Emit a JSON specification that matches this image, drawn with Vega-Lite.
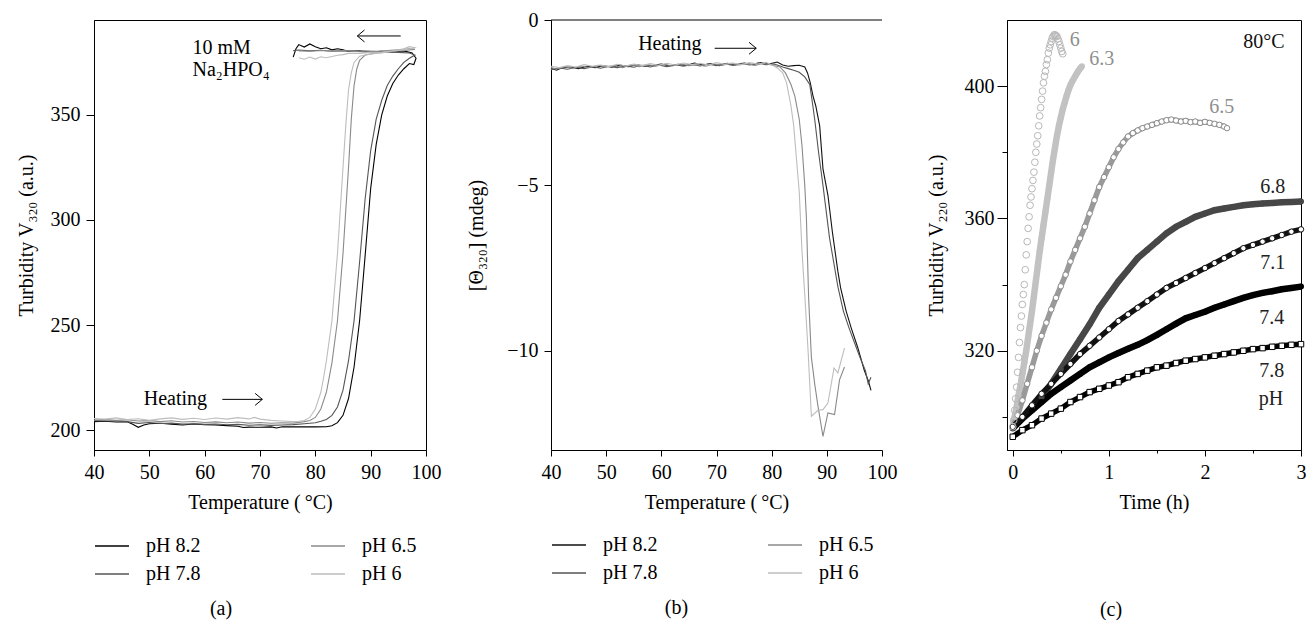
{
"$schema": "https://vega.github.io/schema/vega-lite/v6.json",
"padding": {"left": 15, "top": 10, "right": 0, "bottom": 0},
"bounds": "flush",
"spacing": 125,
"resolve": {"scale": {"color": "independent", "stroke": "independent", "shape": "independent"}, "legend": {"color": "independent"}},
"config": {
  "font": "Liberation Serif",
  "view": {"stroke": "black", "strokeWidth": 1},
  "axis": {"grid": false, "domainColor": "black", "tickColor": "black", "labelColor": "black", "titleColor": "black", "labelFontSize": 20, "titleFontSize": 20, "titleFontWeight": "normal", "labelFont": "Liberation Serif", "titleFont": "Liberation Serif", "domainWidth": 1, "tickWidth": 1, "labelFlush": false, "labelOverlap": false},
  "legend": {"labelFontSize": 20, "labelFont": "Liberation Serif", "labelColor": "black"},
  "title": {"fontSize": 20, "fontWeight": "normal", "font": "Liberation Serif", "color": "black"}
},
"datasets": {
  "a": [
    {"s":"pH 8.2","i":1,"T":40,"V":204.0},{"s":"pH 8.2","i":2,"T":42,"V":204.2},{"s":"pH 8.2","i":3,"T":44,"V":203.8},{"s":"pH 8.2","i":4,"T":46,"V":203.9},{"s":"pH 8.2","i":5,"T":47,"V":202.8},{"s":"pH 8.2","i":6,"T":48,"V":201.3},{"s":"pH 8.2","i":7,"T":49,"V":202.4},{"s":"pH 8.2","i":8,"T":50,"V":203.0},{"s":"pH 8.2","i":9,"T":52,"V":203.2},{"s":"pH 8.2","i":10,"T":54,"V":202.8},{"s":"pH 8.2","i":11,"T":56,"V":202.4},{"s":"pH 8.2","i":12,"T":58,"V":202.9},{"s":"pH 8.2","i":13,"T":60,"V":202.6},{"s":"pH 8.2","i":14,"T":62,"V":202.4},{"s":"pH 8.2","i":15,"T":64,"V":202.1},{"s":"pH 8.2","i":16,"T":66,"V":201.8},{"s":"pH 8.2","i":17,"T":67,"V":201.2},{"s":"pH 8.2","i":18,"T":68,"V":201.4},{"s":"pH 8.2","i":19,"T":70,"V":201.3},{"s":"pH 8.2","i":20,"T":72,"V":201.5},{"s":"pH 8.2","i":21,"T":73,"V":201.0},{"s":"pH 8.2","i":22,"T":74,"V":201.6},{"s":"pH 8.2","i":23,"T":76,"V":201.5},{"s":"pH 8.2","i":24,"T":78,"V":201.5},{"s":"pH 8.2","i":25,"T":80,"V":201.5},{"s":"pH 8.2","i":26,"T":82,"V":201.6},{"s":"pH 8.2","i":27,"T":83,"V":202.0},{"s":"pH 8.2","i":28,"T":84,"V":203.5},{"s":"pH 8.2","i":29,"T":85,"V":207},{"s":"pH 8.2","i":30,"T":86,"V":215},{"s":"pH 8.2","i":31,"T":87,"V":230},{"s":"pH 8.2","i":32,"T":88,"V":252},{"s":"pH 8.2","i":33,"T":89,"V":283},{"s":"pH 8.2","i":34,"T":90,"V":315},{"s":"pH 8.2","i":35,"T":91,"V":336},{"s":"pH 8.2","i":36,"T":92,"V":350},{"s":"pH 8.2","i":37,"T":93,"V":359},{"s":"pH 8.2","i":38,"T":94,"V":365},{"s":"pH 8.2","i":39,"T":95,"V":369},{"s":"pH 8.2","i":40,"T":96,"V":372},{"s":"pH 8.2","i":41,"T":97,"V":374.5},{"s":"pH 8.2","i":42,"T":97.8,"V":374},{"s":"pH 8.2","i":43,"T":98.2,"V":377},{"s":"pH 8.2","i":44,"T":97.5,"V":379.5},{"s":"pH 8.2","i":45,"T":96,"V":380.5},{"s":"pH 8.2","i":46,"T":94,"V":380},{"s":"pH 8.2","i":47,"T":92,"V":380.3},{"s":"pH 8.2","i":48,"T":90,"V":380},{"s":"pH 8.2","i":49,"T":88,"V":380.5},{"s":"pH 8.2","i":50,"T":86,"V":380.2},{"s":"pH 8.2","i":51,"T":85,"V":381},{"s":"pH 8.2","i":52,"T":84,"V":381.5},{"s":"pH 8.2","i":53,"T":83,"V":381},{"s":"pH 8.2","i":54,"T":82,"V":382},{"s":"pH 8.2","i":55,"T":81,"V":381.5},{"s":"pH 8.2","i":56,"T":80,"V":382.5},{"s":"pH 8.2","i":57,"T":79,"V":383.8},{"s":"pH 8.2","i":58,"T":78,"V":382.3},{"s":"pH 8.2","i":59,"T":77,"V":383.5},{"s":"pH 8.2","i":60,"T":76.5,"V":381.5},{"s":"pH 8.2","i":61,"T":76,"V":377.5},
    {"s":"pH 7.8","i":1,"T":40,"V":204.5},{"s":"pH 7.8","i":2,"T":42,"V":204.3},{"s":"pH 7.8","i":3,"T":44,"V":204.4},{"s":"pH 7.8","i":4,"T":46,"V":204.0},{"s":"pH 7.8","i":5,"T":48,"V":203.2},{"s":"pH 7.8","i":6,"T":50,"V":203.6},{"s":"pH 7.8","i":7,"T":52,"V":203.1},{"s":"pH 7.8","i":8,"T":54,"V":203.3},{"s":"pH 7.8","i":9,"T":56,"V":202.8},{"s":"pH 7.8","i":10,"T":58,"V":203.0},{"s":"pH 7.8","i":11,"T":60,"V":202.7},{"s":"pH 7.8","i":12,"T":62,"V":202.9},{"s":"pH 7.8","i":13,"T":64,"V":202.5},{"s":"pH 7.8","i":14,"T":66,"V":202.7},{"s":"pH 7.8","i":15,"T":68,"V":202.3},{"s":"pH 7.8","i":16,"T":70,"V":202.5},{"s":"pH 7.8","i":17,"T":72,"V":202.2},{"s":"pH 7.8","i":18,"T":74,"V":202.4},{"s":"pH 7.8","i":19,"T":76,"V":202.6},{"s":"pH 7.8","i":20,"T":78,"V":203.0},{"s":"pH 7.8","i":21,"T":80,"V":203.5},{"s":"pH 7.8","i":22,"T":81,"V":204.2},{"s":"pH 7.8","i":23,"T":82,"V":205},{"s":"pH 7.8","i":24,"T":83,"V":207},{"s":"pH 7.8","i":25,"T":84,"V":211},{"s":"pH 7.8","i":26,"T":85,"V":219},{"s":"pH 7.8","i":27,"T":86,"V":233},{"s":"pH 7.8","i":28,"T":87,"V":252},{"s":"pH 7.8","i":29,"T":88,"V":280},{"s":"pH 7.8","i":30,"T":89,"V":310},{"s":"pH 7.8","i":31,"T":90,"V":333},{"s":"pH 7.8","i":32,"T":91,"V":348},{"s":"pH 7.8","i":33,"T":92,"V":357},{"s":"pH 7.8","i":34,"T":93,"V":364},{"s":"pH 7.8","i":35,"T":94,"V":368.5},{"s":"pH 7.8","i":36,"T":95,"V":372},{"s":"pH 7.8","i":37,"T":96,"V":375},{"s":"pH 7.8","i":38,"T":97,"V":377},{"s":"pH 7.8","i":39,"T":98,"V":378.5},{"s":"pH 7.8","i":40,"T":97,"V":379.5},{"s":"pH 7.8","i":41,"T":95,"V":379.8},{"s":"pH 7.8","i":42,"T":93,"V":380},{"s":"pH 7.8","i":43,"T":91,"V":380.2},{"s":"pH 7.8","i":44,"T":89,"V":380},{"s":"pH 7.8","i":45,"T":87,"V":380.4},{"s":"pH 7.8","i":46,"T":85,"V":380.6},{"s":"pH 7.8","i":47,"T":83,"V":380.3},{"s":"pH 7.8","i":48,"T":81,"V":380.8},{"s":"pH 7.8","i":49,"T":79,"V":380.5},{"s":"pH 7.8","i":50,"T":77,"V":380.9},{"s":"pH 7.8","i":51,"T":76,"V":380.6},
    {"s":"pH 6.5","i":1,"T":40,"V":204.8},{"s":"pH 6.5","i":2,"T":42,"V":205.0},{"s":"pH 6.5","i":3,"T":44,"V":204.6},{"s":"pH 6.5","i":4,"T":46,"V":204.9},{"s":"pH 6.5","i":5,"T":48,"V":204.3},{"s":"pH 6.5","i":6,"T":50,"V":204.5},{"s":"pH 6.5","i":7,"T":52,"V":204.0},{"s":"pH 6.5","i":8,"T":54,"V":204.4},{"s":"pH 6.5","i":9,"T":56,"V":203.8},{"s":"pH 6.5","i":10,"T":58,"V":204.1},{"s":"pH 6.5","i":11,"T":60,"V":203.6},{"s":"pH 6.5","i":12,"T":62,"V":203.9},{"s":"pH 6.5","i":13,"T":64,"V":203.5},{"s":"pH 6.5","i":14,"T":66,"V":203.8},{"s":"pH 6.5","i":15,"T":68,"V":203.3},{"s":"pH 6.5","i":16,"T":70,"V":203.6},{"s":"pH 6.5","i":17,"T":72,"V":203.2},{"s":"pH 6.5","i":18,"T":74,"V":203.5},{"s":"pH 6.5","i":19,"T":76,"V":203.3},{"s":"pH 6.5","i":20,"T":78,"V":204},{"s":"pH 6.5","i":21,"T":79,"V":204.5},{"s":"pH 6.5","i":22,"T":80,"V":206},{"s":"pH 6.5","i":23,"T":81,"V":210},{"s":"pH 6.5","i":24,"T":82,"V":218},{"s":"pH 6.5","i":25,"T":82.5,"V":225},{"s":"pH 6.5","i":26,"T":83,"V":232},{"s":"pH 6.5","i":27,"T":84,"V":252},{"s":"pH 6.5","i":28,"T":85,"V":284},{"s":"pH 6.5","i":29,"T":86,"V":325},{"s":"pH 6.5","i":30,"T":86.5,"V":348},{"s":"pH 6.5","i":31,"T":87,"V":364},{"s":"pH 6.5","i":32,"T":87.5,"V":372},{"s":"pH 6.5","i":33,"T":88,"V":376},{"s":"pH 6.5","i":34,"T":89,"V":378.5},{"s":"pH 6.5","i":35,"T":91,"V":379.5},{"s":"pH 6.5","i":36,"T":93,"V":380},{"s":"pH 6.5","i":37,"T":95,"V":380.5},{"s":"pH 6.5","i":38,"T":97,"V":381},{"s":"pH 6.5","i":39,"T":98,"V":381.2},{"s":"pH 6.5","i":40,"T":97,"V":381.5},{"s":"pH 6.5","i":41,"T":95,"V":381},{"s":"pH 6.5","i":42,"T":93,"V":380.6},{"s":"pH 6.5","i":43,"T":91,"V":380.3},{"s":"pH 6.5","i":44,"T":89,"V":380.5},{"s":"pH 6.5","i":45,"T":87,"V":380.2},{"s":"pH 6.5","i":46,"T":85,"V":380.6},{"s":"pH 6.5","i":47,"T":83,"V":380.4},{"s":"pH 6.5","i":48,"T":81,"V":380.7},{"s":"pH 6.5","i":49,"T":79,"V":380.3},{"s":"pH 6.5","i":50,"T":77,"V":380.5},
    {"s":"pH 6","i":1,"T":40,"V":205.5},{"s":"pH 6","i":2,"T":42,"V":205.2},{"s":"pH 6","i":3,"T":44,"V":205.8},{"s":"pH 6","i":4,"T":46,"V":205.0},{"s":"pH 6","i":5,"T":48,"V":205.4},{"s":"pH 6","i":6,"T":50,"V":204.6},{"s":"pH 6","i":7,"T":52,"V":205.3},{"s":"pH 6","i":8,"T":54,"V":205.8},{"s":"pH 6","i":9,"T":56,"V":205.1},{"s":"pH 6","i":10,"T":58,"V":205.6},{"s":"pH 6","i":11,"T":60,"V":205.0},{"s":"pH 6","i":12,"T":62,"V":205.7},{"s":"pH 6","i":13,"T":64,"V":205.2},{"s":"pH 6","i":14,"T":66,"V":205.9},{"s":"pH 6","i":15,"T":68,"V":205.3},{"s":"pH 6","i":16,"T":69,"V":206.0},{"s":"pH 6","i":17,"T":70,"V":205.2},{"s":"pH 6","i":18,"T":72,"V":204.6},{"s":"pH 6","i":19,"T":74,"V":204.3},{"s":"pH 6","i":20,"T":76,"V":204.0},{"s":"pH 6","i":21,"T":77,"V":204.2},{"s":"pH 6","i":22,"T":78,"V":204.5},{"s":"pH 6","i":23,"T":79,"V":206},{"s":"pH 6","i":24,"T":80,"V":210},{"s":"pH 6","i":25,"T":81,"V":218},{"s":"pH 6","i":26,"T":81.5,"V":225},{"s":"pH 6","i":27,"T":82,"V":233},{"s":"pH 6","i":28,"T":83,"V":252},{"s":"pH 6","i":29,"T":84,"V":284},{"s":"pH 6","i":30,"T":85,"V":325},{"s":"pH 6","i":31,"T":85.5,"V":345},{"s":"pH 6","i":32,"T":86,"V":362},{"s":"pH 6","i":33,"T":86.5,"V":370},{"s":"pH 6","i":34,"T":87,"V":375},{"s":"pH 6","i":35,"T":88,"V":378},{"s":"pH 6","i":36,"T":90,"V":379},{"s":"pH 6","i":37,"T":92,"V":379.5},{"s":"pH 6","i":38,"T":94,"V":380.5},{"s":"pH 6","i":39,"T":96,"V":381.5},{"s":"pH 6","i":40,"T":97,"V":382.5},{"s":"pH 6","i":41,"T":98,"V":382},{"s":"pH 6","i":42,"T":97.5,"V":381.5},{"s":"pH 6","i":43,"T":96,"V":381},{"s":"pH 6","i":44,"T":94,"V":380.5},{"s":"pH 6","i":45,"T":92,"V":380},{"s":"pH 6","i":46,"T":90,"V":379.8},{"s":"pH 6","i":47,"T":88,"V":379.3},{"s":"pH 6","i":48,"T":86,"V":379.3},{"s":"pH 6","i":49,"T":85,"V":378.7},{"s":"pH 6","i":50,"T":84,"V":378.4},{"s":"pH 6","i":51,"T":83,"V":377.8},{"s":"pH 6","i":52,"T":82,"V":377.2},{"s":"pH 6","i":53,"T":81,"V":377.7},{"s":"pH 6","i":54,"T":80,"V":376.6},{"s":"pH 6","i":55,"T":79,"V":377.6},{"s":"pH 6","i":56,"T":78,"V":376.5},{"s":"pH 6","i":57,"T":77,"V":377.2}
  ],
  "a_txt": [
    {"T":57.8,"V":379.2,"label":"10 mM"},
    {"T":57.8,"V":368.6,"label":"Na₂HPO₄"},
    {"T":49.0,"V":211.8,"label":"Heating"}
  ],
  "a_arr": [
    {"T":95.43,"T2":87.59,"V":387.6,"dir":"left"},
    {"T":63.19,"T2":70.42,"V":214.6,"dir":"right"}
  ],
  "b": [
    {"s":"pH 8.2","T":40,"Th":-1.46},{"s":"pH 8.2","T":41,"Th":-1.52},{"s":"pH 8.2","T":42,"Th":-1.44},{"s":"pH 8.2","T":43.5,"Th":-1.42},{"s":"pH 8.2","T":45,"Th":-1.47},{"s":"pH 8.2","T":46.5,"Th":-1.40},{"s":"pH 8.2","T":48,"Th":-1.44},{"s":"pH 8.2","T":49.5,"Th":-1.38},{"s":"pH 8.2","T":51,"Th":-1.43},{"s":"pH 8.2","T":52.5,"Th":-1.36},{"s":"pH 8.2","T":54,"Th":-1.41},{"s":"pH 8.2","T":55.5,"Th":-1.35},{"s":"pH 8.2","T":57,"Th":-1.40},{"s":"pH 8.2","T":58.5,"Th":-1.37},{"s":"pH 8.2","T":60,"Th":-1.33},{"s":"pH 8.2","T":61.5,"Th":-1.39},{"s":"pH 8.2","T":63,"Th":-1.34},{"s":"pH 8.2","T":64.5,"Th":-1.38},{"s":"pH 8.2","T":66,"Th":-1.30},{"s":"pH 8.2","T":67.5,"Th":-1.36},{"s":"pH 8.2","T":69,"Th":-1.32},{"s":"pH 8.2","T":70.5,"Th":-1.38},{"s":"pH 8.2","T":72,"Th":-1.31},{"s":"pH 8.2","T":73.5,"Th":-1.36},{"s":"pH 8.2","T":75,"Th":-1.30},{"s":"pH 8.2","T":76.5,"Th":-1.35},{"s":"pH 8.2","T":78,"Th":-1.29},{"s":"pH 8.2","T":79.5,"Th":-1.33},{"s":"pH 8.2","T":81,"Th":-1.27},{"s":"pH 8.2","T":82,"Th":-1.36},{"s":"pH 8.2","T":83,"Th":-1.40},{"s":"pH 8.2","T":84,"Th":-1.38},{"s":"pH 8.2","T":85,"Th":-1.37},{"s":"pH 8.2","T":86,"Th":-1.42},{"s":"pH 8.2","T":86.5,"Th":-1.6},{"s":"pH 8.2","T":87,"Th":-1.9},{"s":"pH 8.2","T":87.5,"Th":-2.3},{"s":"pH 8.2","T":88,"Th":-2.6},{"s":"pH 8.2","T":88.7,"Th":-3.2},{"s":"pH 8.2","T":89.3,"Th":-4.5},{"s":"pH 8.2","T":90.2,"Th":-5.3},{"s":"pH 8.2","T":91,"Th":-6.4},{"s":"pH 8.2","T":92,"Th":-7.6},{"s":"pH 8.2","T":92.5,"Th":-8.1},{"s":"pH 8.2","T":93.5,"Th":-8.8},{"s":"pH 8.2","T":94.4,"Th":-9.3},{"s":"pH 8.2","T":95.6,"Th":-9.9},{"s":"pH 8.2","T":96.8,"Th":-10.6},{"s":"pH 8.2","T":97.5,"Th":-10.9},{"s":"pH 8.2","T":98,"Th":-11.2},
    {"s":"pH 7.8","T":40,"Th":-1.50},{"s":"pH 7.8","T":41.5,"Th":-1.45},{"s":"pH 7.8","T":43,"Th":-1.49},{"s":"pH 7.8","T":44.5,"Th":-1.43},{"s":"pH 7.8","T":46,"Th":-1.47},{"s":"pH 7.8","T":47.5,"Th":-1.41},{"s":"pH 7.8","T":49,"Th":-1.46},{"s":"pH 7.8","T":50.5,"Th":-1.40},{"s":"pH 7.8","T":52,"Th":-1.44},{"s":"pH 7.8","T":53.5,"Th":-1.39},{"s":"pH 7.8","T":55,"Th":-1.43},{"s":"pH 7.8","T":56.5,"Th":-1.37},{"s":"pH 7.8","T":58,"Th":-1.42},{"s":"pH 7.8","T":59.5,"Th":-1.36},{"s":"pH 7.8","T":61,"Th":-1.41},{"s":"pH 7.8","T":62.5,"Th":-1.35},{"s":"pH 7.8","T":64,"Th":-1.40},{"s":"pH 7.8","T":65.5,"Th":-1.34},{"s":"pH 7.8","T":67,"Th":-1.39},{"s":"pH 7.8","T":68.5,"Th":-1.33},{"s":"pH 7.8","T":70,"Th":-1.38},{"s":"pH 7.8","T":71.5,"Th":-1.32},{"s":"pH 7.8","T":73,"Th":-1.37},{"s":"pH 7.8","T":74.5,"Th":-1.31},{"s":"pH 7.8","T":76,"Th":-1.36},{"s":"pH 7.8","T":77.5,"Th":-1.30},{"s":"pH 7.8","T":79,"Th":-1.35},{"s":"pH 7.8","T":80.5,"Th":-1.33},{"s":"pH 7.8","T":82,"Th":-1.42},{"s":"pH 7.8","T":83,"Th":-1.47},{"s":"pH 7.8","T":84,"Th":-1.52},{"s":"pH 7.8","T":85,"Th":-1.58},{"s":"pH 7.8","T":86,"Th":-1.72},{"s":"pH 7.8","T":86.9,"Th":-1.95},{"s":"pH 7.8","T":87.3,"Th":-2.4},{"s":"pH 7.8","T":87.8,"Th":-3.0},{"s":"pH 7.8","T":88.5,"Th":-4.0},{"s":"pH 7.8","T":89.3,"Th":-5.0},{"s":"pH 7.8","T":90.5,"Th":-6.6},{"s":"pH 7.8","T":92,"Th":-8.06},{"s":"pH 7.8","T":93,"Th":-8.8},{"s":"pH 7.8","T":94,"Th":-9.3},{"s":"pH 7.8","T":95,"Th":-9.75},{"s":"pH 7.8","T":96,"Th":-10.2},{"s":"pH 7.8","T":97,"Th":-10.6},{"s":"pH 7.8","T":97.5,"Th":-11.0},{"s":"pH 7.8","T":98,"Th":-10.8},
    {"s":"pH 6.5","T":40,"Th":-1.44},{"s":"pH 6.5","T":41,"Th":-1.48},{"s":"pH 6.5","T":42.5,"Th":-1.41},{"s":"pH 6.5","T":44,"Th":-1.46},{"s":"pH 6.5","T":45.5,"Th":-1.39},{"s":"pH 6.5","T":47,"Th":-1.44},{"s":"pH 6.5","T":48.5,"Th":-1.37},{"s":"pH 6.5","T":50,"Th":-1.42},{"s":"pH 6.5","T":51.5,"Th":-1.38},{"s":"pH 6.5","T":53,"Th":-1.44},{"s":"pH 6.5","T":54.5,"Th":-1.36},{"s":"pH 6.5","T":56,"Th":-1.41},{"s":"pH 6.5","T":57.5,"Th":-1.35},{"s":"pH 6.5","T":59,"Th":-1.40},{"s":"pH 6.5","T":60.5,"Th":-1.34},{"s":"pH 6.5","T":62,"Th":-1.39},{"s":"pH 6.5","T":63.5,"Th":-1.33},{"s":"pH 6.5","T":65,"Th":-1.38},{"s":"pH 6.5","T":66.5,"Th":-1.35},{"s":"pH 6.5","T":68,"Th":-1.40},{"s":"pH 6.5","T":69.5,"Th":-1.33},{"s":"pH 6.5","T":71,"Th":-1.37},{"s":"pH 6.5","T":72.5,"Th":-1.31},{"s":"pH 6.5","T":74,"Th":-1.36},{"s":"pH 6.5","T":75.5,"Th":-1.32},{"s":"pH 6.5","T":77,"Th":-1.37},{"s":"pH 6.5","T":78.5,"Th":-1.31},{"s":"pH 6.5","T":80,"Th":-1.36},{"s":"pH 6.5","T":81.5,"Th":-1.42},{"s":"pH 6.5","T":82.5,"Th":-1.6},{"s":"pH 6.5","T":83.5,"Th":-1.95},{"s":"pH 6.5","T":84.2,"Th":-2.3},{"s":"pH 6.5","T":85,"Th":-3.0},{"s":"pH 6.5","T":85.5,"Th":-3.8},{"s":"pH 6.5","T":86,"Th":-5.0},{"s":"pH 6.5","T":86.3,"Th":-6.0},{"s":"pH 6.5","T":86.7,"Th":-8.4},{"s":"pH 6.5","T":87.2,"Th":-10.2},{"s":"pH 6.5","T":87.8,"Th":-11.0},{"s":"pH 6.5","T":88.4,"Th":-11.68},{"s":"pH 6.5","T":89.3,"Th":-12.59},{"s":"pH 6.5","T":90.2,"Th":-11.88},{"s":"pH 6.5","T":91.4,"Th":-11.93},{"s":"pH 6.5","T":92.3,"Th":-10.88},{"s":"pH 6.5","T":93.2,"Th":-10.49},
    {"s":"pH 6","T":40,"Th":-1.40},{"s":"pH 6","T":41.5,"Th":-1.44},{"s":"pH 6","T":43,"Th":-1.38},{"s":"pH 6","T":44.5,"Th":-1.42},{"s":"pH 6","T":46,"Th":-1.35},{"s":"pH 6","T":47.5,"Th":-1.40},{"s":"pH 6","T":49,"Th":-1.36},{"s":"pH 6","T":50.5,"Th":-1.41},{"s":"pH 6","T":52,"Th":-1.34},{"s":"pH 6","T":53.5,"Th":-1.39},{"s":"pH 6","T":55,"Th":-1.33},{"s":"pH 6","T":56.5,"Th":-1.38},{"s":"pH 6","T":58,"Th":-1.32},{"s":"pH 6","T":59.5,"Th":-1.37},{"s":"pH 6","T":61,"Th":-1.31},{"s":"pH 6","T":62.5,"Th":-1.36},{"s":"pH 6","T":64,"Th":-1.30},{"s":"pH 6","T":65.5,"Th":-1.35},{"s":"pH 6","T":67,"Th":-1.31},{"s":"pH 6","T":68.5,"Th":-1.36},{"s":"pH 6","T":70,"Th":-1.29},{"s":"pH 6","T":71.5,"Th":-1.34},{"s":"pH 6","T":73,"Th":-1.30},{"s":"pH 6","T":74.5,"Th":-1.35},{"s":"pH 6","T":76,"Th":-1.29},{"s":"pH 6","T":77.5,"Th":-1.33},{"s":"pH 6","T":79,"Th":-1.28},{"s":"pH 6","T":80.5,"Th":-1.40},{"s":"pH 6","T":81,"Th":-1.45},{"s":"pH 6","T":82,"Th":-1.6},{"s":"pH 6","T":82.7,"Th":-1.9},{"s":"pH 6","T":83.5,"Th":-2.6},{"s":"pH 6","T":84,"Th":-3.2},{"s":"pH 6","T":84.5,"Th":-4.2},{"s":"pH 6","T":85,"Th":-5.2},{"s":"pH 6","T":85.5,"Th":-7.0},{"s":"pH 6","T":86,"Th":-8.3},{"s":"pH 6","T":86.6,"Th":-10.0},{"s":"pH 6","T":87.2,"Th":-11.98},{"s":"pH 6","T":88.4,"Th":-11.8},{"s":"pH 6","T":89.3,"Th":-11.78},{"s":"pH 6","T":90.2,"Th":-11.58},{"s":"pH 6","T":91.3,"Th":-10.52},{"s":"pH 6","T":92,"Th":-10.67},{"s":"pH 6","T":93.2,"Th":-9.92}
  ],
  "b_txt": [{"T":55.8,"Th":-0.906,"label":"Heating"}],
  "b_arr": [{"T":69.67,"T2":77.2,"Th":-0.855,"dir":"right"}],
  "b_top": [{"Th":0}],
  "c": [
    {"s":"6","t":0,"v":297},{"s":"6","t":0.01,"v":299},{"s":"6","t":0.02,"v":302},{"s":"6","t":0.03,"v":305.5},{"s":"6","t":0.04,"v":309},{"s":"6","t":0.05,"v":313.5},{"s":"6","t":0.06,"v":318},{"s":"6","t":0.07,"v":322.5},{"s":"6","t":0.08,"v":327},{"s":"6","t":0.09,"v":330.5},{"s":"6","t":0.1,"v":334},{"s":"6","t":0.11,"v":337},{"s":"6","t":0.12,"v":340},{"s":"6","t":0.13,"v":344.5},{"s":"6","t":0.14,"v":349},{"s":"6","t":0.15,"v":353},{"s":"6","t":0.16,"v":357},{"s":"6","t":0.17,"v":360.5},{"s":"6","t":0.18,"v":364},{"s":"6","t":0.19,"v":366.5},{"s":"6","t":0.2,"v":369},{"s":"6","t":0.21,"v":371.5},{"s":"6","t":0.22,"v":374},{"s":"6","t":0.23,"v":377},{"s":"6","t":0.24,"v":380},{"s":"6","t":0.25,"v":382.5},{"s":"6","t":0.26,"v":385},{"s":"6","t":0.27,"v":388},{"s":"6","t":0.28,"v":391},{"s":"6","t":0.29,"v":393.5},{"s":"6","t":0.3,"v":396},{"s":"6","t":0.31,"v":398.5},{"s":"6","t":0.32,"v":401},{"s":"6","t":0.33,"v":403},{"s":"6","t":0.34,"v":404.5},{"s":"6","t":0.35,"v":406.5},{"s":"6","t":0.36,"v":408},{"s":"6","t":0.37,"v":410},{"s":"6","t":0.38,"v":411.5},{"s":"6","t":0.39,"v":412.5},{"s":"6","t":0.4,"v":413.5},{"s":"6","t":0.41,"v":414.5},{"s":"6","t":0.42,"v":415},{"s":"6","t":0.43,"v":415.5},{"s":"6","t":0.44,"v":415.5},{"s":"6","t":0.45,"v":415.3},{"s":"6","t":0.46,"v":415},{"s":"6","t":0.47,"v":414.3},{"s":"6","t":0.48,"v":413.5},{"s":"6","t":0.49,"v":412.5},{"s":"6","t":0.5,"v":411.5},{"s":"6","t":0.51,"v":410.5},{"s":"6","t":0.52,"v":409.8},
    {"s":"6.3","t":0,"v":297},{"s":"6.3","t":0.02,"v":300},{"s":"6.3","t":0.04,"v":303},{"s":"6.3","t":0.06,"v":306.5},{"s":"6.3","t":0.08,"v":309.5},{"s":"6.3","t":0.1,"v":313},{"s":"6.3","t":0.12,"v":316.5},{"s":"6.3","t":0.14,"v":320},{"s":"6.3","t":0.16,"v":324},{"s":"6.3","t":0.18,"v":328},{"s":"6.3","t":0.2,"v":332},{"s":"6.3","t":0.22,"v":336.5},{"s":"6.3","t":0.24,"v":341},{"s":"6.3","t":0.26,"v":345.5},{"s":"6.3","t":0.28,"v":350},{"s":"6.3","t":0.3,"v":354},{"s":"6.3","t":0.32,"v":358},{"s":"6.3","t":0.34,"v":362},{"s":"6.3","t":0.36,"v":366},{"s":"6.3","t":0.38,"v":370},{"s":"6.3","t":0.4,"v":374},{"s":"6.3","t":0.42,"v":378},{"s":"6.3","t":0.44,"v":381.5},{"s":"6.3","t":0.46,"v":385},{"s":"6.3","t":0.48,"v":388},{"s":"6.3","t":0.5,"v":390.5},{"s":"6.3","t":0.52,"v":393},{"s":"6.3","t":0.54,"v":395},{"s":"6.3","t":0.56,"v":397},{"s":"6.3","t":0.58,"v":398.8},{"s":"6.3","t":0.6,"v":400.3},{"s":"6.3","t":0.62,"v":401.5},{"s":"6.3","t":0.64,"v":402.5},{"s":"6.3","t":0.66,"v":403.5},{"s":"6.3","t":0.68,"v":404.5},{"s":"6.3","t":0.7,"v":405.3},{"s":"6.3","t":0.72,"v":406},
    {"s":"6.5","t":0,"v":297},{"s":"6.5","t":0.05,"v":300.5},{"s":"6.5","t":0.1,"v":305},{"s":"6.5","t":0.15,"v":310},{"s":"6.5","t":0.2,"v":315},{"s":"6.5","t":0.25,"v":320},{"s":"6.5","t":0.3,"v":324.5},{"s":"6.5","t":0.35,"v":328.5},{"s":"6.5","t":0.4,"v":332.5},{"s":"6.5","t":0.45,"v":336},{"s":"6.5","t":0.5,"v":339.5},{"s":"6.5","t":0.55,"v":343},{"s":"6.5","t":0.6,"v":347},{"s":"6.5","t":0.65,"v":350.5},{"s":"6.5","t":0.7,"v":354},{"s":"6.5","t":0.75,"v":357.5},{"s":"6.5","t":0.8,"v":361.5},{"s":"6.5","t":0.85,"v":365.5},{"s":"6.5","t":0.9,"v":369.5},{"s":"6.5","t":0.95,"v":372.5},{"s":"6.5","t":1.0,"v":375.5},{"s":"6.5","t":1.05,"v":378.5},{"s":"6.5","t":1.1,"v":381},{"s":"6.5","t":1.15,"v":383},{"s":"6.5","t":1.2,"v":384.8},{"s":"6.5","t":1.25,"v":385.8},{"s":"6.5","t":1.3,"v":386.6},{"s":"6.5","t":1.35,"v":387.3},{"s":"6.5","t":1.4,"v":387.8},{"s":"6.5","t":1.45,"v":388.3},{"s":"6.5","t":1.5,"v":388.8},{"s":"6.5","t":1.55,"v":389.3},{"s":"6.5","t":1.6,"v":389.7},{"s":"6.5","t":1.65,"v":389.9},{"s":"6.5","t":1.7,"v":389.6},{"s":"6.5","t":1.75,"v":389.3},{"s":"6.5","t":1.8,"v":389.5},{"s":"6.5","t":1.85,"v":389.1},{"s":"6.5","t":1.9,"v":389.3},{"s":"6.5","t":1.95,"v":388.9},{"s":"6.5","t":2.0,"v":389.2},{"s":"6.5","t":2.05,"v":388.9},{"s":"6.5","t":2.1,"v":388.6},{"s":"6.5","t":2.15,"v":388.3},{"s":"6.5","t":2.2,"v":387.8},{"s":"6.5","t":2.23,"v":387.3},
    {"s":"6.8","t":0,"v":296.5},{"s":"6.8","t":0.1,"v":299.5},{"s":"6.8","t":0.2,"v":302.5},{"s":"6.8","t":0.3,"v":306},{"s":"6.8","t":0.4,"v":310},{"s":"6.8","t":0.5,"v":314.5},{"s":"6.8","t":0.6,"v":319},{"s":"6.8","t":0.7,"v":323.5},{"s":"6.8","t":0.8,"v":328},{"s":"6.8","t":0.9,"v":333},{"s":"6.8","t":1.0,"v":337},{"s":"6.8","t":1.1,"v":341},{"s":"6.8","t":1.2,"v":344.5},{"s":"6.8","t":1.3,"v":348},{"s":"6.8","t":1.4,"v":350.5},{"s":"6.8","t":1.5,"v":353},{"s":"6.8","t":1.6,"v":355.5},{"s":"6.8","t":1.7,"v":357.5},{"s":"6.8","t":1.8,"v":359},{"s":"6.8","t":1.9,"v":360.5},{"s":"6.8","t":2.0,"v":361.5},{"s":"6.8","t":2.1,"v":362.5},{"s":"6.8","t":2.2,"v":363},{"s":"6.8","t":2.3,"v":363.5},{"s":"6.8","t":2.4,"v":364},{"s":"6.8","t":2.5,"v":364.3},{"s":"6.8","t":2.6,"v":364.5},{"s":"6.8","t":2.7,"v":364.7},{"s":"6.8","t":2.8,"v":364.9},{"s":"6.8","t":2.9,"v":365},{"s":"6.8","t":3.0,"v":365.1},
    {"s":"7.1","t":0,"v":297},{"s":"7.1","t":0.1,"v":300},{"s":"7.1","t":0.2,"v":303.5},{"s":"7.1","t":0.3,"v":307},{"s":"7.1","t":0.4,"v":310},{"s":"7.1","t":0.5,"v":313},{"s":"7.1","t":0.6,"v":316},{"s":"7.1","t":0.7,"v":319},{"s":"7.1","t":0.8,"v":321.5},{"s":"7.1","t":0.9,"v":324},{"s":"7.1","t":1.0,"v":326.5},{"s":"7.1","t":1.1,"v":329},{"s":"7.1","t":1.2,"v":331},{"s":"7.1","t":1.3,"v":333},{"s":"7.1","t":1.4,"v":335},{"s":"7.1","t":1.5,"v":337},{"s":"7.1","t":1.6,"v":339},{"s":"7.1","t":1.7,"v":340.5},{"s":"7.1","t":1.8,"v":342},{"s":"7.1","t":1.9,"v":343.5},{"s":"7.1","t":2.0,"v":345},{"s":"7.1","t":2.1,"v":346.5},{"s":"7.1","t":2.2,"v":348},{"s":"7.1","t":2.3,"v":349.5},{"s":"7.1","t":2.4,"v":351},{"s":"7.1","t":2.5,"v":352},{"s":"7.1","t":2.6,"v":353},{"s":"7.1","t":2.7,"v":354},{"s":"7.1","t":2.8,"v":355},{"s":"7.1","t":2.9,"v":356},{"s":"7.1","t":3.0,"v":356.7},
    {"s":"7.4","t":0,"v":296.7},{"s":"7.4","t":0.1,"v":299.5},{"s":"7.4","t":0.2,"v":302},{"s":"7.4","t":0.3,"v":304.5},{"s":"7.4","t":0.4,"v":307},{"s":"7.4","t":0.5,"v":309},{"s":"7.4","t":0.6,"v":311},{"s":"7.4","t":0.7,"v":313},{"s":"7.4","t":0.8,"v":315},{"s":"7.4","t":0.9,"v":316.5},{"s":"7.4","t":1.0,"v":318},{"s":"7.4","t":1.1,"v":319.3},{"s":"7.4","t":1.2,"v":320.6},{"s":"7.4","t":1.3,"v":321.8},{"s":"7.4","t":1.4,"v":323.2},{"s":"7.4","t":1.5,"v":324.8},{"s":"7.4","t":1.6,"v":326.5},{"s":"7.4","t":1.7,"v":328.2},{"s":"7.4","t":1.8,"v":329.8},{"s":"7.4","t":1.9,"v":330.8},{"s":"7.4","t":2.0,"v":331.8},{"s":"7.4","t":2.1,"v":333},{"s":"7.4","t":2.2,"v":334},{"s":"7.4","t":2.3,"v":335},{"s":"7.4","t":2.4,"v":336},{"s":"7.4","t":2.5,"v":336.8},{"s":"7.4","t":2.6,"v":337.5},{"s":"7.4","t":2.7,"v":338},{"s":"7.4","t":2.8,"v":338.6},{"s":"7.4","t":2.9,"v":339},{"s":"7.4","t":3.0,"v":339.4},
    {"s":"7.8","t":0,"v":294},{"s":"7.8","t":0.1,"v":296},{"s":"7.8","t":0.2,"v":297.5},{"s":"7.8","t":0.3,"v":299.5},{"s":"7.8","t":0.4,"v":301},{"s":"7.8","t":0.5,"v":302.5},{"s":"7.8","t":0.6,"v":304.5},{"s":"7.8","t":0.7,"v":306},{"s":"7.8","t":0.8,"v":307.5},{"s":"7.8","t":0.9,"v":308.5},{"s":"7.8","t":1.0,"v":309.5},{"s":"7.8","t":1.1,"v":310.5},{"s":"7.8","t":1.2,"v":312},{"s":"7.8","t":1.3,"v":313},{"s":"7.8","t":1.4,"v":314},{"s":"7.8","t":1.5,"v":315},{"s":"7.8","t":1.6,"v":315.5},{"s":"7.8","t":1.7,"v":316.3},{"s":"7.8","t":1.8,"v":317},{"s":"7.8","t":1.9,"v":317.5},{"s":"7.8","t":2.0,"v":318},{"s":"7.8","t":2.1,"v":318.5},{"s":"7.8","t":2.2,"v":319},{"s":"7.8","t":2.3,"v":319.5},{"s":"7.8","t":2.4,"v":320},{"s":"7.8","t":2.5,"v":320.5},{"s":"7.8","t":2.6,"v":320.8},{"s":"7.8","t":2.7,"v":321.2},{"s":"7.8","t":2.8,"v":321.5},{"s":"7.8","t":2.9,"v":321.8},{"s":"7.8","t":3.0,"v":322}
  ],
  "c_txt": [
    {"t":0.594,"v":412.2,"label":"6","col":"#8f8f8f"},
    {"t":0.795,"v":406.3,"label":"6.3","col":"#8f8f8f"},
    {"t":2.045,"v":391.9,"label":"6.5","col":"#8f8f8f"},
    {"t":2.40,"v":411.4,"label":"80°C","col":"#111111"},
    {"t":2.576,"v":367.6,"label":"6.8","col":"#222222"},
    {"t":2.576,"v":344.7,"label":"7.1","col":"#222222"},
    {"t":2.566,"v":328.1,"label":"7.4","col":"#222222"},
    {"t":2.566,"v":312.2,"label":"7.8","col":"#222222"},
    {"t":2.56,"v":303.7,"label":"pH","col":"#222222"}
  ]
},
"hconcat": [
  {
    "width": 332, "height": 430,
    "title": {"text": "(a)", "orient": "bottom", "anchor": "middle", "dx": -39, "offset": 15},
    "layer": [
      {"data": {"name": "a"}, "mark": {"type": "line", "strokeWidth": 1.1},
       "encoding": {
         "x": {"field": "T", "type": "quantitative", "scale": {"domain": [40, 100], "nice": false, "zero": false},
               "axis": {"values": [40,45,50,55,60,65,70,75,80,85,90,95,100], "title": "Temperature (\u2009°C)", "labelExpr": "datum.value % 10 === 0 ? datum.label : ''", "tickSize": {"condition": {"test": "datum.value % 10 !== 0", "value": 3}, "value": 6}, "labelPadding": 6, "titlePadding": 10}},
         "y": {"field": "V", "type": "quantitative", "scale": {"domain": [190.5, 395.2], "nice": false, "zero": false},
               "axis": {"values": [200,250,300,350], "title": "Turbidity V₃₂₀ (a.u.)", "tickSize": 8, "labelPadding": 6, "titlePadding": 14}},
         "color": {"field": "s", "type": "nominal", "scale": {"domain": ["pH 8.2","pH 6.5","pH 7.8","pH 6"], "range": ["#000000","#8a8a8a","#555555","#bdbdbd"]},
                   "legend": {"orient": "none", "legendX": 0, "legendY": 508, "direction": "horizontal", "columns": 2, "title": null, "symbolType": "stroke", "symbolSize": 1156, "symbolStrokeWidth": 1.3, "labelOffset": 16, "columnPadding": 107, "rowPadding": -6, "padding": 0}},
         "order": {"field": "i", "type": "quantitative"}
       }},
      {"data": {"name": "a_txt"}, "mark": {"type": "text", "align": "left", "baseline": "alphabetic", "fontSize": 20, "color": "black"},
       "encoding": {"x": {"field": "T", "type": "quantitative"}, "y": {"field": "V", "type": "quantitative"}, "text": {"field": "label"}}},
      {"data": {"name": "a_arr"}, "mark": {"type": "rule", "strokeWidth": 1, "color": "black"},
       "encoding": {"x": {"field": "T", "type": "quantitative"}, "x2": {"field": "T2"}, "y": {"field": "V", "type": "quantitative"}}},
      {"data": {"name": "a_arr"}, "mark": {"type": "point", "filled": false, "stroke": "black", "strokeWidth": 1, "size": 144, "opacity": 1},
       "encoding": {"x": {"field": "T2", "type": "quantitative"}, "y": {"field": "V", "type": "quantitative"},
                    "shape": {"field": "dir", "type": "nominal", "scale": {"domain": ["left","right"], "range": ["M1.2,-1L0,0L1.2,1","M-1.2,-1L0,0L-1.2,1"]}, "legend": null}}}
    ]
  },
  {
    "width": 331, "height": 430,
    "view": {"stroke": null},
    "title": {"text": "(b)", "orient": "bottom", "anchor": "middle", "dx": -40, "offset": 15},
    "layer": [
      {"data": {"name": "b"}, "mark": {"type": "line", "strokeWidth": 1.1},
       "encoding": {
         "x": {"field": "T", "type": "quantitative", "scale": {"domain": [40, 100], "nice": false, "zero": false},
               "axis": {"values": [40,45,50,55,60,65,70,75,80,85,90,95,100], "title": "Temperature (\u2009°C)", "labelExpr": "datum.value % 10 === 0 ? datum.label : ''", "tickSize": {"condition": {"test": "datum.value % 10 !== 0", "value": 3}, "value": 6}, "labelPadding": 6, "titlePadding": 10}},
         "y": {"field": "Th", "type": "quantitative", "scale": {"domain": [-13, 0], "nice": false, "zero": false},
               "axis": {"values": [0,-5,-10], "title": "[Θ₃₂₀] (mdeg)", "tickSize": 7, "labelPadding": 6, "titlePadding": 20}},
         "color": {"field": "s", "type": "nominal", "scale": {"domain": ["pH 8.2","pH 6.5","pH 7.8","pH 6"], "range": ["#111111","#8a8a8a","#555555","#bdbdbd"]},
                   "legend": {"orient": "none", "legendX": 0, "legendY": 507, "direction": "horizontal", "columns": 2, "title": null, "symbolType": "stroke", "symbolSize": 1156, "symbolStrokeWidth": 1.3, "labelOffset": 16, "columnPadding": 107, "rowPadding": -6, "padding": 0}}
       }},
      {"data": {"name": "b_top"}, "mark": {"type": "rule", "strokeWidth": 1, "color": "black"},
       "encoding": {"y": {"field": "Th", "type": "quantitative"}}},
      {"data": {"name": "b_txt"}, "mark": {"type": "text", "align": "left", "baseline": "alphabetic", "fontSize": 20, "color": "black"},
       "encoding": {"x": {"field": "T", "type": "quantitative"}, "y": {"field": "Th", "type": "quantitative"}, "text": {"field": "label"}}},
      {"data": {"name": "b_arr"}, "mark": {"type": "rule", "strokeWidth": 1, "color": "black"},
       "encoding": {"x": {"field": "T", "type": "quantitative"}, "x2": {"field": "T2"}, "y": {"field": "Th", "type": "quantitative"}}},
      {"data": {"name": "b_arr"}, "mark": {"type": "point", "filled": false, "stroke": "black", "strokeWidth": 1, "size": 144, "opacity": 1},
       "encoding": {"x": {"field": "T2", "type": "quantitative"}, "y": {"field": "Th", "type": "quantitative"},
                    "shape": {"field": "dir", "type": "nominal", "scale": {"domain": ["left","right"], "range": ["M1.2,-1L0,0L1.2,1","M-1.2,-1L0,0L-1.2,1"]}, "legend": null}}}
    ]
  },
  {
    "width": 294, "height": 430,
    "title": {"text": "(c)", "orient": "bottom", "anchor": "middle", "dx": -43, "offset": 88},
    "data": {"name": "c"},
    "layer": [
      {"transform": [{"filter": {"field": "s", "oneOf": ["6.3","6.8","7.4"]}}],
       "mark": {"type": "line", "strokeWidth": 6.5},
       "encoding": {
         "x": {"field": "t", "type": "quantitative", "scale": {"domain": [-0.06, 3.0], "nice": false, "zero": false},
               "axis": {"values": [0,0.5,1,1.5,2,2.5,3], "title": "Time (h)", "labelExpr": "datum.value % 1 === 0 ? '' + datum.value : ''", "tickSize": {"condition": {"test": "datum.value % 1 !== 0", "value": 3}, "value": 6}, "labelPadding": 6, "titlePadding": 10}},
         "y": {"field": "v", "type": "quantitative", "scale": {"domain": [290, 420], "nice": false, "zero": false},
               "axis": {"values": [300,320,340,360,380,400], "title": "Turbidity V₂₂₀ (a.u.)", "labelExpr": "datum.value % 40 === 0 ? '' + datum.value : ''", "tickSize": {"condition": {"test": "datum.value % 40 !== 0", "value": 5}, "value": 10}, "labelPadding": 3, "titlePadding": 18}},
         "color": {"field": "s", "type": "nominal", "scale": {"domain": ["6","6.3","6.5","6.8","7.1","7.4","7.8"], "range": ["#b8b8b8","#c2c2c2","#9a9a9a","#474747","#111111","#000000","#000000"]}, "legend": null}
       }},
      {"transform": [{"filter": {"field": "s", "oneOf": ["6.5","7.1","7.8"]}}],
       "mark": {"type": "line", "strokeWidth": 5.5},
       "encoding": {
         "x": {"field": "t", "type": "quantitative"},
         "y": {"field": "v", "type": "quantitative"},
         "color": {"field": "s", "type": "nominal", "legend": null}
       }},
      {"transform": [{"filter": {"field": "s", "oneOf": ["6.3","6.8","7.4"]}}],
       "mark": {"type": "point", "shape": "circle", "filled": true, "size": 36, "opacity": 1},
       "encoding": {
         "x": {"field": "t", "type": "quantitative"},
         "y": {"field": "v", "type": "quantitative"},
         "color": {"field": "s", "type": "nominal", "legend": null}
       }},
      {"transform": [{"filter": {"field": "s", "oneOf": ["6.5","7.1"]}}],
       "mark": {"type": "point", "shape": "circle", "filled": true, "fill": "white", "strokeWidth": 1, "size": 30, "opacity": 1},
       "encoding": {
         "x": {"field": "t", "type": "quantitative"},
         "y": {"field": "v", "type": "quantitative"},
         "stroke": {"field": "s", "type": "nominal", "scale": {"domain": ["6","6.3","6.5","6.8","7.1","7.4","7.8"], "range": ["#b8b8b8","#c2c2c2","#8c8c8c","#474747","#111111","#000000","#000000"]}, "legend": null}
       }},
      {"transform": [{"filter": {"field": "s", "equal": "6"}}],
       "mark": {"type": "point", "shape": "circle", "filled": false, "strokeWidth": 1, "size": 45, "opacity": 1, "color": "#b8b8b8"},
       "encoding": {
         "x": {"field": "t", "type": "quantitative"},
         "y": {"field": "v", "type": "quantitative"}
       }},
      {"transform": [{"filter": {"field": "s", "equal": "7.8"}}],
       "mark": {"type": "point", "shape": "square", "filled": true, "fill": "white", "stroke": "black", "strokeWidth": 1, "size": 30, "opacity": 1},
       "encoding": {
         "x": {"field": "t", "type": "quantitative"},
         "y": {"field": "v", "type": "quantitative"}
       }},
      {"data": {"name": "c_txt"}, "mark": {"type": "text", "align": "left", "baseline": "alphabetic", "fontSize": 20},
       "encoding": {"x": {"field": "t", "type": "quantitative"}, "y": {"field": "v", "type": "quantitative"}, "text": {"field": "label"}, "color": {"field": "col", "type": "nominal", "scale": null}}}
    ]
  }
]
}
